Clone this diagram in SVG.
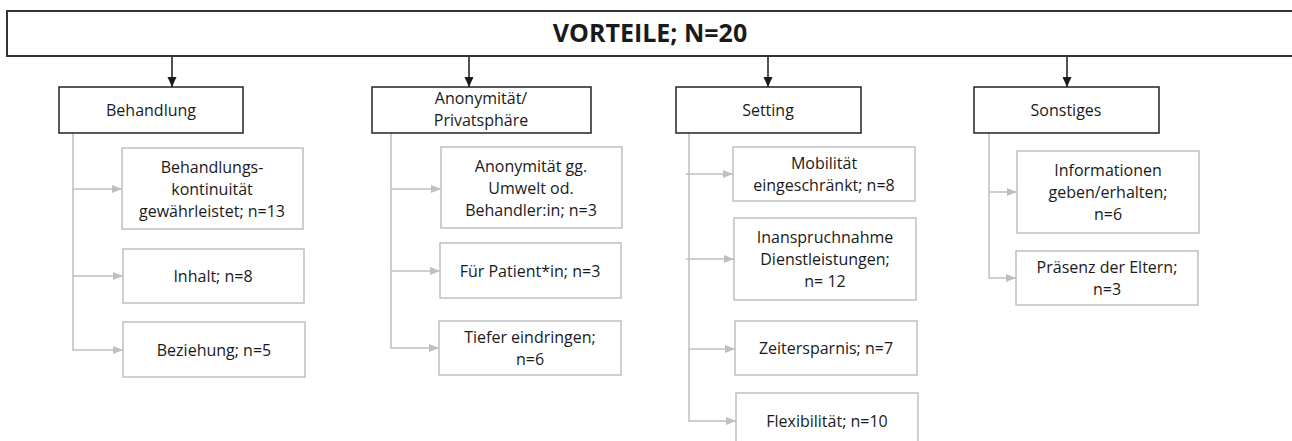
<svg xmlns="http://www.w3.org/2000/svg" width="1292" height="441" viewBox="0 0 1292 441">
<style>
text{font-family:"Open Sans","Liberation Sans",sans-serif;font-size:16px;fill:#1a1a1a;text-anchor:middle}
.title{font-size:25px;font-weight:bold}
.top{fill:#fff;stroke:#333;stroke-width:2}
.cat{fill:#fff;stroke:#222;stroke-width:1.5}
.sub{fill:#fff;stroke:#c0c0c0;stroke-width:1.5}
.blk{fill:none;stroke:#1a1a1a;stroke-width:1.5}
.gry{fill:none;stroke:#bfbfbf;stroke-width:1.5}
</style>
<defs>
<marker id="ab" markerUnits="userSpaceOnUse" markerWidth="10" markerHeight="12" viewBox="0 0 10 12" refX="10" refY="6" orient="auto"><path d="M0,1.5 L10,6 L0,10.5 Z" fill="#1a1a1a"/></marker>
<marker id="ag" markerUnits="userSpaceOnUse" markerWidth="10" markerHeight="10" viewBox="0 0 10 10" refX="10" refY="5" orient="auto"><path d="M0,1 L10,5 L0,9 Z" fill="#bfbfbf"/></marker>
</defs>

<g id="connectors">
<path class="blk" d="M172,56 V87" marker-end="url(#ab)"/>
<path class="blk" d="M469,56 V87" marker-end="url(#ab)"/>
<path class="blk" d="M768,56 V87" marker-end="url(#ab)"/>
<path class="blk" d="M1067,56 V87" marker-end="url(#ab)"/>

<path class="gry" d="M73,133 V350 H123" marker-end="url(#ag)"/>
<path class="gry" d="M73,189 H122" marker-end="url(#ag)"/>
<path class="gry" d="M73,276 H123" marker-end="url(#ag)"/>

<path class="gry" d="M391,133 V348 H439" marker-end="url(#ag)"/>
<path class="gry" d="M391,189 H441" marker-end="url(#ag)"/>
<path class="gry" d="M391,271 H440" marker-end="url(#ag)"/>

<path class="gry" d="M689,133 V421 H736" marker-end="url(#ag)"/>
<path class="gry" d="M686,174 H733" marker-end="url(#ag)"/>
<path class="gry" d="M686,259 H734" marker-end="url(#ag)"/>
<path class="gry" d="M689,349 H735" marker-end="url(#ag)"/>

<path class="gry" d="M989,133 V278 H1016" marker-end="url(#ag)"/>
<path class="gry" d="M989,192 H1017" marker-end="url(#ag)"/>
</g>

<g id="root">
<rect class="top" x="7" y="11" width="1300" height="45"/>
<text class="title" x="650" y="42">VORTEILE; N=20</text>
</g>

<g id="behandlung">
<rect class="cat" x="59" y="87" width="184" height="46"/>
<text x="151" y="116">Behandlung</text>
</g>
<g id="anonymitaet">
<rect class="cat" x="372" y="87" width="219" height="46"/>
<text x="481" y="104">Anonymität/</text>
<text x="481" y="126">Privatsphäre</text>
</g>
<g id="setting">
<rect class="cat" x="676" y="87" width="185" height="46"/>
<text x="768" y="116">Setting</text>
</g>
<g id="sonstiges">
<rect class="cat" x="974" y="87" width="185" height="46"/>
<text x="1066" y="116">Sonstiges</text>
</g>

<g id="b1">
<rect class="sub" x="122" y="148" width="181" height="81"/>
<text x="212" y="173">Behandlungs-</text>
<text x="212" y="195">kontinuität</text>
<text x="212" y="217">gewährleistet; n=13</text>
</g>
<g id="b2">
<rect class="sub" x="123" y="249" width="181" height="54"/>
<text x="213" y="282">Inhalt; n=8</text>
</g>
<g id="b3">
<rect class="sub" x="123" y="322" width="182" height="55"/>
<text x="214" y="356">Beziehung; n=5</text>
</g>

<g id="a1">
<rect class="sub" x="441" y="147" width="181" height="81"/>
<text x="531" y="172">Anonymität gg.</text>
<text x="531" y="194">Umwelt od.</text>
<text x="531" y="216">Behandler:in; n=3</text>
</g>
<g id="a2">
<rect class="sub" x="440" y="243" width="181" height="55"/>
<text x="530" y="277">Für Patient*in; n=3</text>
</g>
<g id="a3">
<rect class="sub" x="439" y="321" width="182" height="54"/>
<text x="530" y="343">Tiefer eindringen;</text>
<text x="530" y="365">n=6</text>
</g>

<g id="s1">
<rect class="sub" x="733" y="147" width="182" height="54"/>
<text x="824" y="169">Mobilität</text>
<text x="824" y="191">eingeschränkt; n=8</text>
</g>
<g id="s2">
<rect class="sub" x="734" y="218" width="182" height="82"/>
<text x="825" y="243">Inanspruchnahme</text>
<text x="825" y="265">Dienstleistungen;</text>
<text x="825" y="287">n= 12</text>
</g>
<g id="s3">
<rect class="sub" x="735" y="321" width="182" height="54"/>
<text x="826" y="354">Zeitersparnis; n=7</text>
</g>
<g id="s4">
<rect class="sub" x="736" y="393" width="182" height="55"/>
<text x="827" y="427">Flexibilität; n=10</text>
</g>

<g id="o1">
<rect class="sub" x="1017" y="151" width="182" height="82"/>
<text x="1108" y="176">Informationen</text>
<text x="1108" y="198">geben/erhalten;</text>
<text x="1108" y="220">n=6</text>
</g>
<g id="o2">
<rect class="sub" x="1016" y="251" width="182" height="54"/>
<text x="1107" y="273">Präsenz der Eltern;</text>
<text x="1107" y="295">n=3</text>
</g>
</svg>
